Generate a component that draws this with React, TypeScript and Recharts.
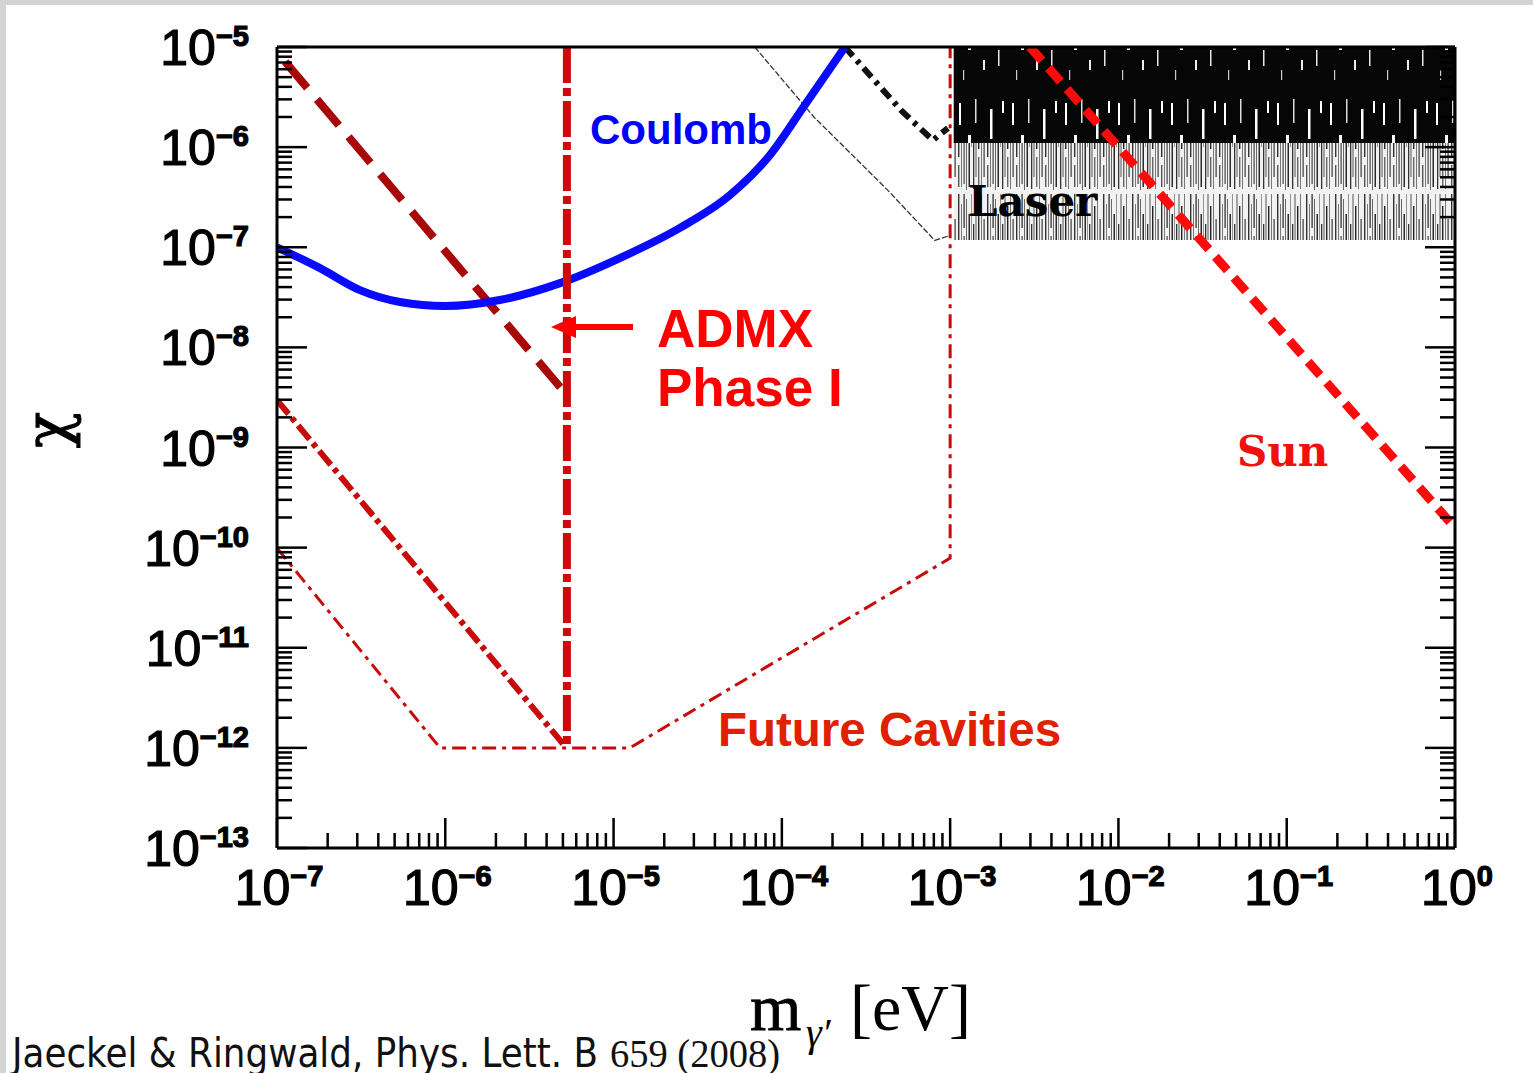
import { ComposedChart, Line, Area, XAxis, YAxis } from 'recharts'

const W = 1533
const H = 1073

// tick decades (exponents) for both axes
const X_DECADES = [-7, -6, -5, -4, -3, -2, -1, 0]
const Y_DECADES = [-13, -12, -11, -10, -9, -8, -7, -6, -5]
const MINOR_STEPS = [2, 3, 4, 5, 6, 7, 8, 9]

// Coulomb bound (blue)
const COULOMB_M = [1e-7, 1.8e-7, 3.11e-7, 5.38e-7, 1e-6, 2.11e-6, 4.81e-6, 1.09e-5, 2.48e-5, 4.92e-5, 8.5e-5, 1.37e-4, 2.37e-4]
const COULOMB_CHI = [1e-7, 6.19e-8, 3.73e-8, 2.84e-8, 2.59e-8, 2.97e-8, 4.38e-8, 7.8e-8, 1.56e-7, 3.32e-7, 8.34e-7, 2.64e-6, 1e-5]

// ADMX phase I (dark red dashed diagonal + vertical)
const ADMX_DIAG_M = [1.12e-7, 5.28e-6]
const ADMX_DIAG_CHI = [7.1e-6, 3.33e-9]
const ADMX_VERT_M = [5.28e-6, 5.28e-6]
const ADMX_VERT_CHI = [1e-5, 1e-12]

// future cavities
const CAV_A_M = [1e-7, 5.0e-6]
const CAV_A_CHI = [2.97e-9, 1.1e-12]
const CAV_B_M = [1e-7, 9.3e-7, 1.25e-5, 1e-3, 1e-3]
const CAV_B_CHI = [9.9e-11, 1e-12, 1e-12, 7.85e-11, 1e-5]

// Sun (red dotted)
const SUN_M = [2.98e-3, 0.933]
const SUN_CHI = [1e-5, 1.8e-10]

// black curves next to the laser region
const THIN_M = [6.9e-5, 1.55e-4, 4.27e-4, 8.1e-4, 9.7e-4]
const THIN_CHI = [1e-5, 2.0e-6, 3.7e-7, 1.17e-7, 1.29e-7]
const THICK_M = [2.37e-4, 5.1e-4, 7.9e-4, 9.7e-4]
const THICK_CHI = [1e-5, 2.34e-6, 1.17e-6, 1.55e-6]

// laser region: lower edge, dense edge, top
const LASER_M = [1.05e-3, 1]
const LASER_LOW = [1.18e-7, 1.18e-7]
const LASER_MID = [1.1e-6, 1.1e-6]
const LASER_TOP = [1e-5, 1e-5]

const zip = (m: number[], chi: number[]) => m.map((v, i) => ({ m: v, chi: chi[i] }))
const laserData = LASER_M.map((v, i) => ({ m: v, lo: LASER_LOW[i], mid: LASER_MID[i], hi: LASER_TOP[i] }))

const buildTicks = (decades: number[]) => {
  const out: number[] = []
  decades.forEach((d, i) => {
    out.push(10 ** d)
    if (i < decades.length - 1) MINOR_STEPS.forEach((s) => out.push(s * 10 ** d))
  })
  return out
}
const X_TICKS = buildTicks(X_DECADES)
const Y_TICKS = buildTicks(Y_DECADES)

const tickInfo = (v: number) => {
  const l = Math.log10(v)
  const e = Math.round(l)
  return { e, major: Math.abs(l - e) < 1e-6 }
}
const expText = (e: number) => (e < 0 ? '\u2212' + Math.abs(e) : String(e))

const LABEL_FONT = { fontFamily: 'Liberation Sans, Arial, sans-serif', fill: '#000', stroke: '#000', strokeWidth: 1.2 }

function PowerLabel({ x, y, e, anchor }: { x: number; y: number; e: number; anchor: 'middle' | 'end' }) {
  return (
    <text x={x} y={y} textAnchor={anchor} fontSize={50} {...LABEL_FONT}>
      <tspan>10</tspan>
      <tspan dy={-19} fontSize={29} fontWeight="bold">{expText(e)}</tspan>
    </text>
  )
}

function BottomTick(props: any) {
  const { x, y, payload } = props
  const { e, major } = tickInfo(payload.value)
  return (
    <g>
      <line x1={x} y1={y} x2={x} y2={y - (major ? 30 : 15)} stroke="#000" strokeWidth={2.5} />
      {major && <PowerLabel x={x + 2} y={y + 57} e={e} anchor="middle" />}
    </g>
  )
}

function TopTick(props: any) {
  const { x, y, payload } = props
  const { major } = tickInfo(payload.value)
  return <line x1={x} y1={y} x2={x} y2={y + (major ? 30 : 15)} stroke="#000" strokeWidth={2.5} />
}

function LeftTick(props: any) {
  const { x, y, payload } = props
  const { e, major } = tickInfo(payload.value)
  return (
    <g>
      <line x1={x} y1={y} x2={x + (major ? 30 : 15)} y2={y} stroke="#000" strokeWidth={2.5} />
      {major && <PowerLabel x={x - 28} y={y + 18} e={e} anchor="end" />}
    </g>
  )
}

function RightTick(props: any) {
  const { x, y, payload } = props
  const { major } = tickInfo(payload.value)
  return <line x1={x} y1={y} x2={x - (major ? 30 : 15)} y2={y} stroke="#000" strokeWidth={2.5} />
}

const AXIS_LINE = { stroke: '#000', strokeWidth: 3 }
const lineProps = {
  xAxisId: 'b',
  yAxisId: 'l',
  dataKey: 'chi',
  dot: false,
  activeDot: false,
  isAnimationActive: false,
  type: 'linear' as const,
  fill: 'none',
}

export default function App() {
  return (
    <div style={{ position: 'absolute', left: 0, top: 0, width: W, height: H, background: '#d4d4d4', overflow: 'hidden' }}>
      <div style={{ position: 'absolute', left: 6, top: 5, right: 0, bottom: 0, background: '#fff' }} />
      <div style={{ position: 'absolute', left: 0, top: 0 }}>
        <ComposedChart width={W} height={H} margin={{ top: 0, right: 0, bottom: 0, left: 0 }}>
          <defs>
            <pattern id="laserGray" patternUnits="userSpaceOnUse" width="29" height="97">
              <rect x="0" y="0" width="29" height="97" fill="#f2f2f2" />
              <rect x="1" y="0" width="1.4" height="60" fill="#333" />
              <rect x="1" y="68" width="1.4" height="22" fill="#555" />
              <rect x="4" y="10" width="1" height="80" fill="#777" />
              <rect x="6.5" y="0" width="1.2" height="34" fill="#222" />
              <rect x="6.5" y="42" width="1.2" height="45" fill="#444" />
              <rect x="9" y="5" width="1" height="88" fill="#666" />
              <rect x="11.5" y="20" width="1.5" height="70" fill="#2a2a2a" />
              <rect x="14" y="0" width="0.9" height="50" fill="#888" />
              <rect x="16" y="30" width="1.3" height="62" fill="#333" />
              <rect x="18.5" y="0" width="1" height="80" fill="#555" />
              <rect x="21" y="12" width="1.4" height="40" fill="#222" />
              <rect x="21" y="60" width="1.4" height="30" fill="#666" />
              <rect x="24" y="0" width="1" height="92" fill="#777" />
              <rect x="26.5" y="25" width="1.2" height="55" fill="#3a3a3a" />
            </pattern>
            <pattern id="laserBlack" patternUnits="userSpaceOnUse" width="53" height="97">
              <rect x="0" y="0" width="53" height="97" fill="#060606" />
              <rect x="5" y="6" width="2" height="22" fill="#fff" />
              <rect x="14" y="38" width="3" height="12" fill="#fff" />
              <rect x="21" y="2" width="1.5" height="24" fill="#ddd" />
              <rect x="29" y="60" width="2" height="10" fill="#eee" />
              <rect x="36" y="12" width="2.5" height="30" fill="#fff" />
              <rect x="44" y="50" width="1.5" height="16" fill="#e8e8e8" />
              <rect x="48" y="4" width="2" height="12" fill="#fff" />
              <rect x="9" y="70" width="1.2" height="10" fill="#ccc" />
            </pattern>
          </defs>
          <XAxis
            xAxisId="b"
            orientation="bottom"
            type="number"
            dataKey="m"
            scale="log"
            domain={[1e-7, 1]}
            allowDataOverflow
            ticks={X_TICKS}
            interval={0}
            height={225}
            tickSize={0}
            tickMargin={0}
            tickLine={false}
            axisLine={AXIS_LINE}
            tick={<BottomTick />}
          />
          <XAxis
            xAxisId="t"
            orientation="top"
            type="number"
            scale="log"
            domain={[1e-7, 1]}
            allowDataOverflow
            ticks={X_TICKS}
            interval={0}
            height={47}
            tickSize={0}
            tickMargin={0}
            tickLine={false}
            axisLine={AXIS_LINE}
            tick={<TopTick />}
          />
          <YAxis
            yAxisId="l"
            orientation="left"
            type="number"
            scale="log"
            domain={[1e-13, 1e-5]}
            allowDataOverflow
            ticks={Y_TICKS}
            interval={0}
            width={277}
            tickSize={0}
            tickMargin={0}
            tickLine={false}
            axisLine={AXIS_LINE}
            tick={<LeftTick />}
          />
          <YAxis
            yAxisId="r"
            orientation="right"
            type="number"
            scale="log"
            domain={[1e-13, 1e-5]}
            allowDataOverflow
            ticks={Y_TICKS}
            interval={0}
            width={78}
            tickSize={0}
            tickMargin={0}
            tickLine={false}
            axisLine={AXIS_LINE}
            tick={<RightTick />}
          />

          <Area
            xAxisId="b"
            yAxisId="l"
            data={laserData}
            dataKey={(d: any) => [d.lo, d.mid]}
            type="linear"
            stroke="none"
            fill="url(#laserGray)"
            fillOpacity={1}
            dot={false}
            activeDot={false}
            isAnimationActive={false}
          />
          <Area
            xAxisId="b"
            yAxisId="l"
            data={laserData}
            dataKey={(d: any) => [d.mid, d.hi]}
            type="linear"
            stroke="none"
            fill="url(#laserBlack)"
            fillOpacity={1}
            dot={false}
            activeDot={false}
            isAnimationActive={false}
          />

          <Line {...lineProps} data={zip(THIN_M, THIN_CHI)} stroke="#333" strokeWidth={1.3} strokeDasharray="6 2" />
          <Line {...lineProps} data={zip(THICK_M, THICK_CHI)} stroke="#111" strokeWidth={6} strokeDasharray="12 6 4 6" />
          <Line {...lineProps} data={zip(CAV_B_M, CAV_B_CHI)} stroke="#c80a0a" strokeWidth={3} strokeDasharray="14 6 4 6" />
          <Line {...lineProps} data={zip(CAV_A_M, CAV_A_CHI)} stroke="#c80a0a" strokeWidth={6} strokeDasharray="18 5 5 5" />
          <Line {...lineProps} data={zip(ADMX_DIAG_M, ADMX_DIAG_CHI)} stroke="#a80808" strokeWidth={8} strokeDasharray="34 15" />
          <Line {...lineProps} type="monotone" data={zip(COULOMB_M, COULOMB_CHI)} stroke="#0a0aff" strokeWidth={8} />
          <Line {...lineProps} data={zip(ADMX_VERT_M, ADMX_VERT_CHI)} stroke="#d00a0a" strokeWidth={8} strokeDasharray="36 5 8 5" />
          <Line {...lineProps} data={zip(SUN_M, SUN_CHI)} stroke="#ff0a0a" strokeWidth={9} strokeDasharray="18 10" />
        </ComposedChart>
      </div>

      <svg width={W} height={H} style={{ position: 'absolute', left: 0, top: 0, pointerEvents: 'none' }}>
        <text x={590} y={144} fontSize={42} fontWeight="bold" fill="#0000ff" fontFamily="Liberation Sans, Arial, sans-serif">Coulomb</text>
        <text x={968} y={216} fontSize={42} fontWeight="bold" fill="#000" fontFamily="DejaVu Serif, serif">Laser</text>
        <g fill="#ff0000" fontFamily="Liberation Sans, Arial, sans-serif" fontWeight="bold" fontSize={53}>
          <text x={657} y={347}>ADMX</text>
          <text x={657} y={406}>Phase I</text>
        </g>
        <line x1={633} y1={327} x2={570} y2={327} stroke="#ff0000" strokeWidth={6} />
        <polygon points="551,327 576,316 576,338" fill="#ff0000" />
        <text x={1237} y={466} fontSize={42} fontWeight="bold" fill="#f01010" fontFamily="DejaVu Serif, serif">Sun</text>
        <text x={718} y={746} fontSize={47.5} fontWeight="bold" fill="#e02000" fontFamily="Liberation Sans, Arial, sans-serif">Future Cavities</text>

        <text transform="translate(68,430) rotate(-90)" textAnchor="middle" fontSize={60} fill="#000" stroke="#000" strokeWidth={1} fontFamily="DejaVu Serif, serif">χ</text>

        <g fill="#000" fontFamily="Liberation Serif, serif">
          <text x={750} y={1030} fontSize={66} stroke="#000" strokeWidth={0.8}>m</text>
          <text x={806} y={1046} fontSize={40} fontStyle="italic">γ′</text>
          <text x={850} y={1030} fontSize={66}>[eV]</text>
        </g>

        <text x={12} y={1067} fontSize={40} fill="#111" fontFamily="DejaVu Sans, sans-serif" textLength={586} lengthAdjust="spacingAndGlyphs">Jaeckel &amp; Ringwald, Phys. Lett. B</text>
        <text x={610} y={1067} fontSize={40} fill="#111" fontFamily="Liberation Serif, serif" textLength={170} lengthAdjust="spacingAndGlyphs">659 (2008)</text>
      </svg>
    </div>
  )
}
